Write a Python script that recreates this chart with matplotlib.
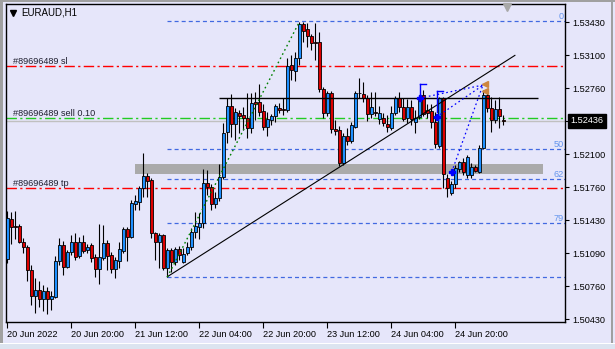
import matplotlib
matplotlib.use("Agg")
import matplotlib.pyplot as plt
from matplotlib.lines import Line2D
from matplotlib.patches import Rectangle
import matplotlib.transforms as mtrans
import numpy as np

# ---------------- data (EURAUD H1) ----------------
opens = [1.51039,1.51443,1.51377,1.51377,1.51211,1.51160,1.50925,1.50668,1.50726,1.50638,
         1.50716,1.50638,1.50658,1.51016,1.51177,1.50963,1.51107,1.51211,1.51069,1.51216,
         1.51130,1.51180,1.51059,1.50938,1.51054,1.51198,1.51079,1.50935,1.51022,1.51123,
         1.51342,1.51264,1.51598,1.51618,1.51753,1.51877,1.51837,1.51299,1.51208,1.51281,
         1.50945,1.51130,1.51006,1.51140,1.51012,1.51103,1.51157,1.51315,1.51365,1.51400,
         1.51810,1.51769,1.51595,1.51652,1.51870,1.52319,1.52587,1.52400,1.52511,1.52490,
         1.52466,1.52365,1.52622,1.52622,1.52534,1.52375,1.52443,1.52483,1.52561,1.52559,
         1.52544,1.52995,1.52941,1.53066,1.53413,1.53359,1.53291,1.53234,1.53236,1.52753,
         1.52517,1.52716,1.52349,1.52342,1.52006,1.52281,1.52234,1.52375,1.52719,1.52706,
         1.52662,1.52501,1.52527,1.52450,1.52460,1.52403,1.52359,1.52511,1.52662,1.52571,
         1.52460,1.52577,1.52420,1.52476,1.52695,1.52544,1.52534,1.52426,1.52183,1.52662,
         1.51854,1.51703,1.51794,1.51948,1.52016,1.51887,1.51887,1.51971,1.51921,1.52163,
         1.52695,1.52567,1.52443,1.52551,1.52443]
highs = [1.51524,1.51514,1.51524,1.51393,1.51251,1.51180,1.50978,1.50847,1.50817,1.50776,
         1.50756,1.50716,1.51069,1.51251,1.51221,1.51130,1.51281,1.51302,1.51261,1.51281,
         1.51191,1.51201,1.51090,1.51393,1.51382,1.51231,1.51110,1.51059,1.51211,1.51365,
         1.51365,1.51635,1.51685,1.51776,1.52107,1.51908,1.51860,1.51312,1.51302,1.51292,
         1.51150,1.51150,1.51160,1.51170,1.51150,1.51214,1.51349,1.51517,1.51507,1.51948,
         1.51938,1.51797,1.51716,1.51999,1.52410,1.52662,1.52703,1.52564,1.52544,1.52577,
         1.52713,1.52719,1.52729,1.52807,1.52605,1.52527,1.52504,1.52605,1.52615,1.52665,
         1.53066,1.53099,1.53130,1.53436,1.53436,1.53420,1.53312,1.53420,1.53329,1.52776,
         1.52736,1.52736,1.52443,1.52382,1.52312,1.52362,1.52423,1.52736,1.52870,1.52830,
         1.52695,1.52729,1.52729,1.52584,1.52514,1.52493,1.52584,1.52685,1.52729,1.52662,
         1.52655,1.52645,1.52544,1.52695,1.52746,1.52605,1.52605,1.52524,1.52678,1.52678,
         1.51898,1.51827,1.51988,1.52029,1.52059,1.52089,1.52009,1.51988,1.52190,1.52746,
         1.52719,1.52678,1.52645,1.52678,1.52493]
lows = [1.50999,1.51191,1.51241,1.51201,1.51100,1.50817,1.50574,1.50494,1.50554,1.50514,
        1.50484,1.50524,1.50645,1.50978,1.50877,1.50948,1.51079,1.51029,1.51049,1.51100,
        1.51100,1.51009,1.50857,1.50787,1.51029,1.50928,1.50898,1.50850,1.50948,1.51100,
        1.51022,1.51251,1.51534,1.51534,1.51668,1.51668,1.51248,1.51029,1.50945,1.50928,
        1.50860,1.50911,1.50978,1.51029,1.50999,1.51079,1.51130,1.51248,1.51241,1.51349,
        1.51685,1.51534,1.51554,1.51625,1.51847,1.52208,1.52274,1.52241,1.52312,1.52342,
        1.52264,1.52309,1.52443,1.52483,1.52342,1.52284,1.52392,1.52426,1.52514,1.52493,
        1.52527,1.52847,1.52840,1.52998,1.53228,1.53183,1.53150,1.53049,1.52726,1.52463,
        1.52483,1.52309,1.52291,1.51983,1.51988,1.52190,1.52211,1.52362,1.52665,1.52628,
        1.52436,1.52460,1.52483,1.52400,1.52385,1.52325,1.52342,1.52493,1.52524,1.52433,
        1.52413,1.52392,1.52309,1.52453,1.52483,1.52463,1.52362,1.52160,1.52160,1.51753,
        1.51668,1.51685,1.51753,1.51918,1.51887,1.51854,1.51854,1.51918,1.51905,1.52150,
        1.52524,1.52325,1.52413,1.52362,1.52392]
closes = [1.51453,1.51362,1.51365,1.51214,1.51163,1.50925,1.50668,1.50726,1.50638,1.50716,
          1.50638,1.50668,1.51016,1.51177,1.50958,1.51107,1.51211,1.51064,1.51208,1.51125,
          1.51165,1.51049,1.50938,1.51059,1.51198,1.51069,1.50935,1.51029,1.51137,1.51342,
          1.51264,1.51602,1.51625,1.51753,1.51877,1.51830,1.51299,1.51208,1.51281,1.50945,
          1.51130,1.51006,1.51140,1.51079,1.51087,1.51157,1.51315,1.51372,1.51400,1.51804,
          1.51769,1.51595,1.51655,1.51870,1.52317,1.52587,1.52400,1.52521,1.52483,1.52466,
          1.52365,1.52612,1.52605,1.52527,1.52375,1.52453,1.52483,1.52584,1.52544,1.52549,
          1.52988,1.52948,1.53066,1.53413,1.53347,1.53291,1.53224,1.53218,1.52756,1.52517,
          1.52716,1.52349,1.52332,1.52006,1.52281,1.52234,1.52392,1.52719,1.52713,1.52662,
          1.52501,1.52571,1.52511,1.52517,1.52416,1.52369,1.52517,1.52662,1.52571,1.52453,
          1.52577,1.52453,1.52466,1.52645,1.52501,1.52514,1.52426,1.52198,1.52662,1.51895,
          1.51759,1.51794,1.51955,1.52016,1.51915,1.52072,1.51971,1.51931,1.52157,1.52695,
          1.52567,1.52443,1.52551,1.52486,1.52436]

date_ticks = [0, 16, 32, 48, 64, 80, 96, 112]
date_labels = ["20 Jun 2022", "20 Jun 20:00", "21 Jun 12:00", "22 Jun 04:00",
               "22 Jun 20:00", "23 Jun 12:00", "24 Jun 04:00", "24 Jun 20:00"]
price_ticks = [1.53430, 1.530967, 1.527633, 1.524300, 1.520967, 1.517633,
               1.514300, 1.510967, 1.507633, 1.504300]
price_labels = ["1.53430", "1.53100", "1.52760", "", "1.52100", "1.51760",
                "1.51430", "1.51090", "1.50760", "1.50430"]

symbol = "EURAUD,H1"
bid = 1.52436
sl_price, tp_price, sell_price = 1.52985, 1.51753, 1.52460
order_label = "#89696489"

fib_start = 40
fib_levels = [1.53443, 1.52150, 1.51844, 1.51400, 1.50857]
fib_labels = ["0", "50", "62", "79", ""]

hline_price, hline_from, hline_to = 1.52662, 52.9, 132.7
zone_lo, zone_hi, zone_from, zone_to = 1.51898, 1.51999, 31.9, 133.8
trend_x, trend_y = [40, 126.9], [1.50860, 1.53096]
zig_x, zig_y = [40, 73], [1.50857, 1.53433]
dot_lines = [([103.2, 119.0], [1.52665, 1.52797]),
             ([107.3, 119.0], [1.52473, 1.52797]),
             ([111.1, 119.0], [1.51918, 1.52807])]
arrow_x, arrow_y = [103.2, 107.3, 111.1], [1.52665, 1.52473, 1.51918]
bracket_x = [(103.2, 104.7), (107.3, 108.9)]
bracket_y = [(1.52807, 1.52696), (1.52736, 1.52524)]
tri_x, tri_y = [119.4, 119.4], [1.52807, 1.52736]

# ---------------- figure ----------------
W, H = 615, 349
plt.rcParams['font.family'] = ['Liberation Sans', 'DejaVu Sans']
plt.rcParams['lines.scale_dashes'] = False
bg = '#E6E6FA'
fig = plt.figure(figsize=(W / 100, H / 100), dpi=100)
fig.patch.set_facecolor(bg)

# window decorations
def frect(x0, y0, x1, y1, color):
    fig.add_artist(Rectangle((x0 / W, 1 - y1 / H), (x1 - x0) / W, (y1 - y0) / H,
                             transform=fig.transFigure, facecolor=color,
                             edgecolor='none', zorder=0))
frect(0, 0, W, 2, '#A0A0A0')
frect(0, 0, 2.5, 343, '#A0A0A0')
frect(611, 0, 612.5, 343, '#A0A0A0')
frect(0, 343, W, H, '#DCE4F0')
frect(0, 343, W, 344, '#FFFFFF')

L, R, T, B = 6, 565, 4, 322
ax = fig.add_axes([L / W, 1 - B / H, (R - L) / W, (B - T) / H])
ax.set_facecolor(bg)
n = len(opens)
idx = np.arange(n)
o = np.array(opens); c = np.array(closes)
hi = np.array(highs); lo = np.array(lows)

xmin, xmax = -0.325, 139.425
ax.set_xlim(xmin, xmax)
ax.set_ylim(1.50403, 1.53615)

# gray zone
ax.add_patch(Rectangle((zone_from, zone_lo), zone_to - zone_from, zone_hi - zone_lo,
                       facecolor='#AAAAAA', edgecolor='none', zorder=1))

# fibo levels
for lv, lab in zip(fib_levels, fib_labels):
    ax.hlines(lv, fib_start, xmax, colors='#4169E1', lw=0.9,
              linestyles=(0, (2.9, 2.2)), zorder=2)
    if lab:
        ax.annotate(lab, xy=(0.998, lv), xycoords=('axes fraction', 'data'),
                    xytext=(0, 1.6), textcoords='offset points', ha='right',
                    va='baseline', fontsize=6.6, color='#6495ED')

# order lines
dd = (0, (7.5, 2.4, 1.6, 2.4))
ax.axhline(bid, color='#C0C0C0', lw=1.0, zorder=2)
ax.axhline(sl_price, color='#FF0000', lw=1.0, linestyle=dd, zorder=2)
ax.axhline(tp_price, color='#FF0000', lw=1.0, linestyle=dd, zorder=2)
ax.axhline(sell_price, color='#22CC22', lw=1.0, linestyle=dd, zorder=2)
for p, t in [(sl_price, ' sl'), (tp_price, ' tp'), (sell_price, ' sell 0.10')]:
    ax.annotate(order_label + t, xy=(0.0125, p), xycoords=('axes fraction', 'data'),
                xytext=(0, 2.0), textcoords='offset points', ha='left',
                va='baseline', fontsize=6.6, color='#202030')

# black horizontal + trend lines
ax.hlines(hline_price, hline_from, hline_to, colors='black', lw=1.0, zorder=5)
ax.plot(trend_x, trend_y, color='black', lw=0.8, zorder=5)
ax.plot(zig_x, zig_y, color='#008000', lw=1.0, linestyle=(0, (1.2, 2.2)), zorder=5)
for xs, ys in dot_lines:
    ax.plot(xs, ys, color='#0000FF', lw=0.9, linestyle=(0, (1.2, 2.0)), zorder=5)

# candles
wick_col = 'black'
ax.vlines(idx, lo, hi, colors=wick_col, lw=0.8, zorder=3)
up = c >= o
cols = np.where(up, '#1E90FF', '#DD0000')
bottom = np.minimum(o, c)
height = np.maximum(np.abs(c - o), 0.00002)
ax.bar(idx, height, bottom=bottom, width=0.62, color=cols, edgecolor='black',
       linewidth=0.6, zorder=4)

# trade marks
for (x0, x1), (y0, y1) in zip(bracket_x, bracket_y):
    ax.plot([x0, x1], [y0, y0], color='#0000FF', lw=1.0, zorder=6)
    ax.plot([x0, x0], [y0, y1], color='#0000FF', lw=1.0, zorder=6)
ax.plot(arrow_x, arrow_y, linestyle='none', marker='P', markersize=5,
        color='#0000FF', zorder=7)
ax.plot(tri_x, tri_y, linestyle='none', marker='<', markersize=4.5,
        color='#CD853F', zorder=7)

# chart-shift marker and symbol
ax.plot([0.897], [0.9906], transform=ax.transAxes, marker='v', markersize=6,
        color='#A8A8A8', linestyle='none', clip_on=False, zorder=8)
ax.plot([0.0125], [0.9726], transform=ax.transAxes, marker='v', markersize=4,
        color='black', linestyle='none', zorder=8)
ax.text(0.028, 0.9726, symbol, transform=ax.transAxes, ha='left', va='center',
        fontsize=7, color='black', zorder=8)

# axes styling
for s in ax.spines.values():
    s.set_color('black'); s.set_linewidth(1.0)
ax.yaxis.tick_right()
ax.set_yticks(price_ticks)
ax.set_yticklabels(price_labels)
ax.set_xticks(date_ticks)
ax.set_xticklabels(date_labels)
for t in ax.get_xticklabels():
    t.set_ha('left')
ax.tick_params(axis='y', which='both', direction='out', length=3, width=0.8,
               pad=2.2, labelsize=6.6, colors='black', right=True, left=False)
ax.tick_params(axis='x', direction='out', length=4, width=0.8, pad=1.5,
               labelsize=6.6, colors='black')

# current price box
ax.annotate(f"{bid:.5f}", xy=(1.0, bid), xycoords=('axes fraction', 'data'),
            xytext=(4.2, 0), textcoords='offset points', ha='left', va='center',
            fontsize=6.6, color='white', zorder=10, annotation_clip=False,
            bbox=dict(boxstyle='square,pad=0.28', fc='black', ec='black'))

fig.savefig('out.png', dpi=100, facecolor=bg)
